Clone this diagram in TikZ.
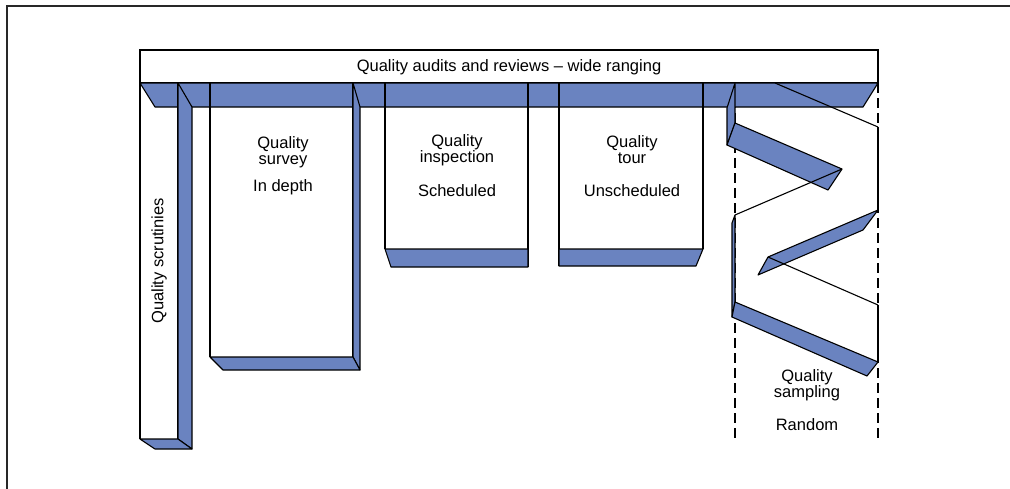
\documentclass[tikz,border=0pt]{standalone}
\usepackage{fontspec}
\setmainfont{Liberation Sans}
\definecolor{ribbon}{RGB}{106,131,192}
\definecolor{framegray}{RGB}{40,40,40}
\begin{document}
\begin{tikzpicture}[x=1pt,y=-1pt,
  edge/.style={line width=1.1pt, draw=black},
  heavy/.style={line width=1.8pt, draw=black},
  face/.style={fill=ribbon, draw=black, line width=1.1pt, line join=round},
  lbl/.style={font=\fontsize{16.5}{16}\selectfont, align=center, inner sep=0pt},
  guide/.style={line width=1.1pt, dash pattern=on 10pt off 5pt}]
\useasboundingbox (0,0) rectangle (1010,488);
% outer frame (left and top sides)
\draw[line width=2.5pt, framegray] (7,490) -- (7,6) -- (1012,6);

% banner
\draw[edge, fill=white] (140,50) rectangle (878,83);
\node[lbl] (title) at (509,67) {Quality audits and reviews -- wide ranging};

% sampling guides
\draw[guide] (735,83) -- (735,440);
\draw[guide] (878,83) -- (878,440);

% blue band below banner
\filldraw[face] (140,83) -- (878,83) -- (863,107) -- (155,107) -- cycle;

% quality scrutinies bar
\draw[edge] (140,83) -- (140,439);
\draw[edge] (178,83) -- (178,439);
\filldraw[face] (178,83) -- (192,107) -- (192,449) -- (178,439) -- cycle;
\filldraw[face] (140,439) -- (178,439) -- (192,449) -- (155,449) -- cycle;
\node[lbl, rotate=90] (scr) at (159,261) {Quality scrutinies};

% quality survey
\draw[edge] (210,83) -- (210,357);
\draw[heavy] (353,83) -- (353,357);
\filldraw[face] (353,83) -- (360,107) -- (360,370) -- (353,357) -- cycle;
\filldraw[face] (210,357) -- (353,357) -- (360,370) -- (223,370) -- cycle;
\node[lbl] (survey) at (283,152) {Quality\\survey};
\node[lbl] (depth) at (283,187) {In depth};

% quality inspection
\draw[edge] (385,83) -- (385,249);
\draw[edge] (528,83) -- (528,267);
\filldraw[face] (385,249) -- (528,249) -- (528,267) -- (391,267) -- cycle;
\node[lbl] (insp) at (457,150) {Quality\\inspection};
\node[lbl] (sched) at (457,191) {Scheduled};

% quality tour
\draw[heavy] (559,83) -- (559,266);
\draw[edge] (703,83) -- (703,249);
\filldraw[face] (559,249) -- (703,249) -- (696,266) -- (559,266) -- cycle;
\node[lbl] (tour) at (632,150) {Quality\\tour};
\node[lbl] (unsched) at (632,191) {Unscheduled};

% quality sampling ribbon
\draw[edge] (775,83) -- (878,127);
\filldraw[face] (735,83) -- (735,123) -- (727,145) -- (727,108) -- cycle;
\filldraw[face] (735,123) -- (842,169) -- (828,190) -- (727,145) -- cycle;
\draw[edge] (842,169) -- (735,215);
\filldraw[face] (735,215) -- (735,302) -- (732,317) -- (732,223) -- cycle;
\filldraw[face] (768,257) -- (878,210) -- (863,230) -- (758,275) -- cycle;
\draw[edge] (768,257) -- (878,305);
\filldraw[face] (735,302) -- (878,362) -- (867,376) -- (732,317) -- cycle;
\draw[edge] (878,127) -- (878,210);
\draw[edge] (878,305) -- (878,362);
\node[lbl] (sampl) at (807,385) {Quality\\sampling};
\node[lbl] (random) at (807,425) {Random};
\end{tikzpicture}
\end{document}
